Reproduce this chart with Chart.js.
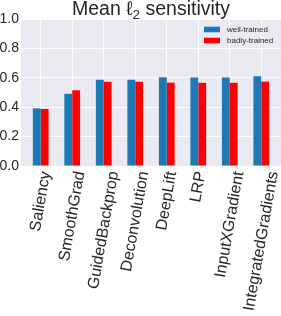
<!DOCTYPE html>
<html>
<head>
<meta charset="utf-8">
<script src="https://cdn.jsdelivr.net/npm/chart.js@4/dist/chart.umd.min.js"></script>
<style>
  html, body { margin: 0; padding: 0; background: #fff; }
  #wrap { width: 281px; height: 316px; }
</style>
</head>
<body>
<div id="wrap"><canvas id="chart" width="281" height="316"></canvas></div>
<script>
// data
const methods = ["Saliency", "SmoothGrad", "GuidedBackprop", "Deconvolution",
                 "DeepLift", "LRP", "InputXGradient", "IntegratedGradients"];
const wellTrained  = [0.392, 0.491, 0.587, 0.586, 0.603, 0.602, 0.602, 0.610];
const badlyTrained = [0.388, 0.515, 0.573, 0.573, 0.567, 0.566, 0.566, 0.574];
const yTicks = [0, 0.2, 0.4, 0.6, 0.8, 1.0];

const FONT = "'Liberation Sans', Arial, sans-serif";
const TEXT = "#262626";

// seaborn-like grey background behind the plot
const bgPlugin = {
    id: "bg",
    beforeDraw(chart) {
        const { ctx, chartArea: a } = chart;
        ctx.save();
        ctx.fillStyle = "#EAEAF2";
        ctx.fillRect(a.left, a.top, a.right - a.left, a.bottom - a.top);
        ctx.restore();
    }
};

// title centred on the plot area, with a subscript 2
const titlePlugin = {
    id: "plotTitle",
    afterDraw(chart) {
        const { ctx, chartArea: a } = chart;
        const parts = [["Mean \u2113", 19.5, 0], ["2", 13.5, 4], [" sensitivity", 19.5, 0]];
        ctx.save();
        ctx.fillStyle = TEXT;
        ctx.textBaseline = "alphabetic";
        let total = 0;
        parts.forEach(p => { ctx.font = `${p[1]}px ${FONT}`; total += ctx.measureText(p[0]).width; });
        let x = (a.left + a.right) / 2 - total / 2;
        parts.forEach(p => {
            ctx.font = `${p[1]}px ${FONT}`;
            ctx.fillText(p[0], x, 15 + p[2]);
            x += ctx.measureText(p[0]).width;
        });
        ctx.restore();
    }
};

// rotated category labels, centred on their tick like matplotlib does
const xLabelPlugin = {
    id: "xLabels",
    afterDraw(chart) {
        const { ctx, chartArea: a } = chart;
        const xs = chart.scales.x;
        const rot = 80 * Math.PI / 180;
        const size = 16, lineH = size * 1.12;
        ctx.save();
        ctx.font = `${size}px ${FONT}`;
        ctx.fillStyle = TEXT;
        ctx.textAlign = "center";
        ctx.textBaseline = "middle";
        methods.forEach((name, i) => {
            const w = ctx.measureText(name).width;
            const boxH = w * Math.sin(rot) + lineH * Math.cos(rot);
            const cx = xs.getPixelForValue(i);
            const cy = a.bottom + 4 + boxH / 2;
            ctx.save();
            ctx.translate(cx, cy);
            ctx.rotate(-rot);
            ctx.fillText(name, 0, 0);
            ctx.restore();
        });
        ctx.restore();
    }
};

// legend inside the upper right corner
const legendPlugin = {
    id: "innerLegend",
    afterDraw(chart) {
        const { ctx, chartArea: a } = chart;
        ctx.save();
        ctx.font = `8px ${FONT}`;
        ctx.textBaseline = "middle";
        chart.data.datasets.forEach((ds, i) => {
            const y = a.top + 10.5 + i * 11;
            ctx.fillStyle = ds.backgroundColor;
            ctx.fillRect(a.left + 183, y - 2.8, 16, 5.6);
            ctx.fillStyle = TEXT;
            ctx.fillText(ds.label, a.left + 206, y);
        });
        ctx.restore();
    }
};

const ctx = document.getElementById("chart").getContext("2d");
new Chart(ctx, {
    type: "bar",
    data: {
        datasets: [
            { label: "well-trained", data: wellTrained.map((v, i) => ({ x: i, y: v })),
              backgroundColor: "#1f77b4", borderWidth: 0 },
            { label: "badly-trained", data: badlyTrained.map((v, i) => ({ x: i, y: v })),
              backgroundColor: "#ff0000", borderWidth: 0 }
        ]
    },
    options: {
        responsive: false,
        animation: false,
        events: [],
        layout: { padding: { top: 19, left: 0, right: 0, bottom: 0 } },
        datasets: { bar: { categoryPercentage: 0.5, barPercentage: 1.0 } },
        plugins: { legend: { display: false }, tooltip: { enabled: false }, title: { display: false } },
        scales: {
            x: {
                type: "linear",
                min: -0.625,
                max: 7.625,
                bounds: "data",
                offset: false,
                afterBuildTicks: s => { s.ticks = methods.map((_, i) => ({ value: i })); },
                afterFit: s => { s.height = 150; s.paddingLeft = 0; s.paddingRight = 0; },
                grid: { color: "#ffffff", lineWidth: 1, drawTicks: false, offset: false },
                border: { display: false },
                ticks: { display: false, autoSkip: false }
            },
            y: {
                min: 0,
                max: 1,
                afterBuildTicks: s => { s.ticks = yTicks.map(v => ({ value: v })); },
                afterFit: s => { s.width = 21; },
                grid: { color: "#ffffff", lineWidth: 1, drawTicks: false },
                border: { display: false },
                ticks: {
                    padding: 2, color: TEXT, font: { family: FONT, size: 14 },
                    callback: v => v.toFixed(1)
                }
            }
        }
    },
    plugins: [bgPlugin, titlePlugin, xLabelPlugin, legendPlugin]
});
</script>
</body>
</html>
